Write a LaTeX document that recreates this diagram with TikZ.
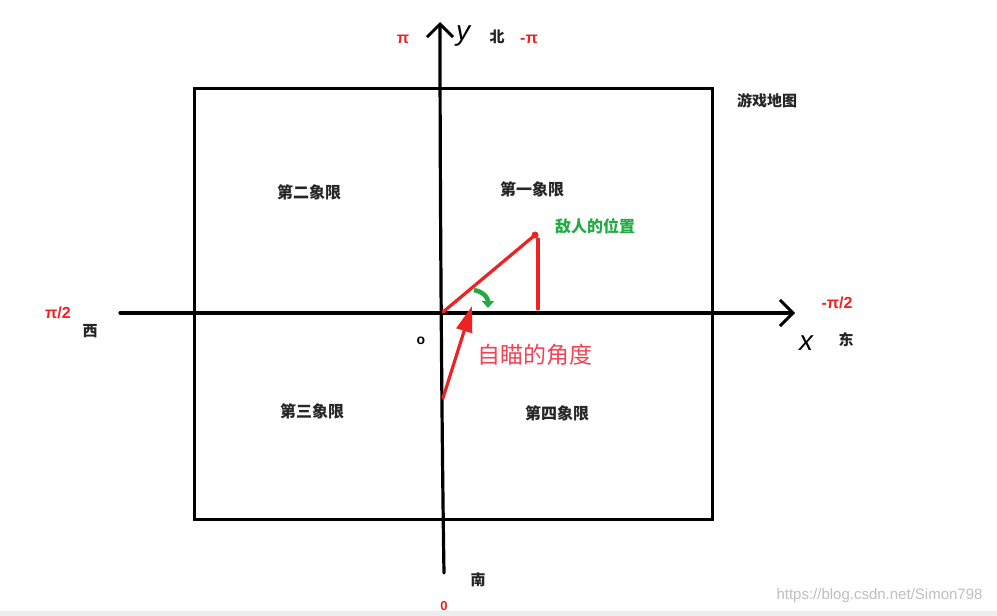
\documentclass[tikz,border=0pt]{standalone}
\usepackage{fontspec}
\setmainfont{Liberation Sans}
\newfontfamily\cjk{Noto Sans CJK SC}
\usetikzlibrary{arrows.meta}
\definecolor{axred}{HTML}{EE2222}
\definecolor{pinkred}{HTML}{F04455}
\definecolor{engreen}{HTML}{22AA44}
\tikzset{
  axis/.style={line width=3.2pt, line cap=round, black},
  chev/.style={-{Straight Barb[length=13pt,width=26pt,line width=3pt]}},
  quad/.style={font=\cjk\bfseries\fontsize{16}{16}\selectfont, text=black!85},
  dir/.style={font=\cjk\bfseries\fontsize{15}{15}\selectfont, text=black!85},
  pilab/.style={font=\bfseries\fontsize{16}{16}\selectfont, text=axred},
  redline/.style={line width=3.2pt, axred, line cap=round},
}
\begin{document}
\begin{tikzpicture}[x=1pt,y=-1pt]
\useasboundingbox (0,0) rectangle (997,616);
\fill[white] (0,0) rectangle (997,616);
\fill[black!7] (0,611) rectangle (997,616);
% map box
\draw[line width=3pt] (194,88) rectangle (712,519);
% axes
\coordinate (ytop) at (440,22);
\coordinate (ybot) at (444,573);
\coordinate (xl) at (120,313);
\coordinate (xr) at (795,313);
\coordinate (O) at (443,312);
\draw[axis,chev] (ybot) .. controls (442,450) and (440,200) .. (ytop);
\draw[axis,chev] (xl) -- (xr);
% axis labels
\node[pilab] (pi) at (403,39) {π};
\node[font=\itshape\fontsize{28}{28}\selectfont] (ylab) at (463,36) {y};
\node[dir] (north) at (497,37) {北};
\node[pilab] (mpi) at (529,39) {-π};
\node[pilab] (pi2) at (58,313) {π/2};
\node[dir] (west) at (90,331) {西};
\node[pilab] (mpi2) at (837,303) {-π/2};
\node[font=\itshape\fontsize{28}{28}\selectfont] (xlab) at (806,343) {x};
\node[dir] (east) at (846,340) {东};
\node[dir] (south) at (478,580) {南};
\node[pilab, font=\bfseries\fontsize{13}{13}\selectfont, inner sep=1pt] (zero) at (444,606) {0};
\node[font=\bfseries\fontsize{14}{14}\selectfont] (olab) at (421,341) {o};
% titles
\node[dir] (map) at (767,101) {游戏地图};
\node[quad] (q2) at (309,192) {第二象限};
\node[quad] (q1) at (532,189) {第一象限};
\node[quad] (q3) at (312,411) {第三象限};
\node[quad] (q4) at (557,413) {第四象限};
% enemy
\node[circle, fill=axred, inner sep=0pt, minimum size=7pt] (enemy) at (535,235) {};
\node[font=\cjk\bfseries\fontsize{16}{16}\selectfont, text=engreen] (enlab) at (595,226) {敌人的位置};
\coordinate (foot) at (538,309);
\draw[redline] (O) -- (enemy.center);
\draw[redline] (538,239) -- (foot);
% green angle arc
\coordinate (ga) at (474,290);
\coordinate (gb) at (488,308);
\draw[engreen, line width=4.5pt, -{Triangle[length=7pt,width=12pt]}] (ga) .. controls (484,292) and (488,298) .. (gb);
% aim arrow
\coordinate (aimS) at (443,398);
\coordinate (aimE) at (472,306);
\draw[redline, -{Triangle[length=26pt,width=16pt]}] (aimS) -- (aimE);
\node[font=\cjk\fontsize{23}{23}\selectfont, text=pinkred] (aimlab) at (535,355) {自瞄的角度};
% watermark
\node[font=\fontsize{15}{15}\selectfont, text=black!25, anchor=east] (wm) at (986,596) {https://blog.csdn.net/Simon798};
\end{tikzpicture}
\end{document}
